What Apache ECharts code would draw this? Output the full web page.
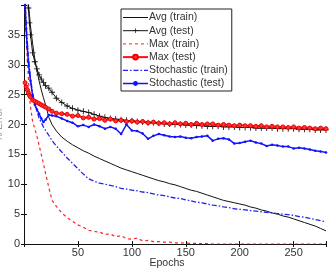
<!DOCTYPE html>
<html>
<head>
<meta charset="utf-8">
<script src="https://cdn.jsdelivr.net/npm/echarts@6/dist/echarts.min.js"></script>
<style>
  html, body { margin: 0; padding: 0; background: #fff; }
  #main { width: 331px; height: 269px; }
</style>
</head>
<body>
<div id="main"></div>
<script>
// epochs (x)
var epochs = [1,2,3,4,5,6,8,10,12,14,16,18,20,23,26,30,35,40,45,50,55,60,65,70,75,80,85,90,95,100,
  105,110,115,120,125,130,135,140,145,150,155,160,165,170,175,180,185,190,195,200,
  205,210,215,220,225,230,235,240,245,250,255,260,265,270,275,280];

// % error per series
var avgTrain = [48,45,42.5,40.5,38.5,36.5,33.5,31,29,27.3,25.8,24.5,23.3,21.2,20,18.9,17.9,17.2,16.6,16.1,
  15.6,15.2,14.7,14.3,13.9,13.5,13.1,12.7,12.4,12.1,11.8,11.5,11.2,10.9,10.6,10.4,10.1,9.9,9.6,9.3,
  9,8.8,8.5,8.2,7.9,7.6,7.3,7.1,6.9,6.7,6.5,6.2,6,5.7,5.5,5.2,5,4.7,4.5,4.2,3.9,3.6,3.3,3,2.6,2.2];
var avgTest = [48,45,42,39.5,37,35,32,30.5,29.3,28.3,27.6,27,26.5,26.1,25.4,24.4,23.7,23.1,22.7,22.4,
  22.2,22,21.7,21.4,21.2,21,20.9,20.8,20.7,20.6,20.5,20.4,20.3,20.3,20.2,20.1,20.1,20,20,19.9,
  19.9,19.8,19.8,19.7,19.7,19.7,19.6,19.6,19.6,19.5,19.5,19.5,19.4,19.4,19.4,19.4,19.3,19.3,19.3,19.3,
  19.2,19.2,19.2,19.1,19.1,19.1];
var maxTrain = [40,35,31,28,25,23,20.5,19.3,18,16.5,15,13.5,11.8,9.5,7.3,6.3,5.2,4.4,3.8,3.2,
  2.8,2.3,2.1,2,1.6,1.7,1.2,1.4,0.9,0.8,1,0.5,0.6,0.4,0.4,0.3,0.3,0.2,0.2,0.15,
  0.1,0.1,0.05,0.05,0,0,0,0,0,0,0,0,0,0,0,0,0,0,0,0,0,0,0,0,0,0];
var maxTest = [27,26.3,25.8,25.3,24.9,24.6,24.1,23.9,23.7,23.5,23.3,23.1,22.9,22.6,22.2,21.9,21.8,21.7,21.4,21.5,
  21.1,21.2,20.9,21,20.7,20.9,20.6,20.7,20.5,20.6,20.4,20.5,20.3,20.4,20.2,20.3,20.1,20.3,20.1,20.2,
  20,20.2,20,20.1,20.1,19.9,20,19.9,19.8,19.9,19.8,19.8,19.7,19.8,19.6,19.7,19.6,19.6,19.5,19.6,
  19.4,19.5,19.4,19.3,19.4,19.3];
var stoTrain = [41,37,34,31.5,29.5,27.8,25.3,23.5,22.2,21.1,20.3,19.6,19,18.2,17.3,16.4,15.4,14.4,13.5,12.6,
  11.7,10.9,10.5,10.2,10,9.8,9.6,9.3,9.2,9,8.9,8.7,8.6,8.4,8.2,8.1,7.9,7.7,7.6,7.4,
  7.2,7,6.9,6.7,6.5,6.4,6.2,6.1,5.9,5.8,5.7,5.6,5.5,5.4,5.3,5.2,5.1,5,4.9,4.8,
  4.6,4.5,4.3,4.1,3.9,3.7];
var stoTest = [40,36,33,30.5,28.8,27.3,24.8,23.3,22.5,21.8,21,20.4,20.8,21.6,21.5,21.4,21,20.6,20.3,19.7,
  19.9,19.6,20,19.7,19.3,19.6,19.3,18.4,20,19,18.9,18.5,17.6,18.1,18.4,18.2,18,17.9,18,17.8,
  17.7,17.9,18,18.1,17.3,17.6,17.7,17.5,16.8,16.9,17.1,17.3,17,16.8,16.4,16.6,16.5,16.3,16.3,16,
  16.1,16,15.8,15.6,15.5,15.3];

var names = ['Avg (train)','Avg (test)','Max (train)','Max (test)','Stochastic (train)','Stochastic (test)'];

function pairs(ys){
    var out = [];
    for(var i=0;i<epochs.length;i++){ out.push([epochs[i], ys[i]]); }
    return out;
}

var plus = 'path://M4.3,0H5.7V4.3H10V5.7H5.7V10H4.3V5.7H0V4.3H4.3Z';
var font = 'Liberation Sans';
var hideMark = { color: 'rgba(0,0,0,0)', borderWidth: 0 };

var chart = echarts.init(document.getElementById('main'), null, {renderer:'canvas'});
var option = {
    animation: false,
    backgroundColor: '#fff',
    textStyle: { fontFamily: font },
    grid: { left: 24, right: 5, top: 5, bottom: 25, outerBoundsMode: 'none', containLabel: false },
    legend: {
        orient: 'vertical',
        left: 121, top: 9,
        padding: [3, 4, 2, 1],
        itemWidth: 25, itemHeight: 6, itemGap: 2.2,
        backgroundColor: '#fff',
        borderColor: '#222', borderWidth: 1,
        textStyle: { fontSize: 10.5, lineHeight: 10, color: '#333', fontFamily: font, padding: [0,0,0,-4] },
        data: [
            { name: names[0], itemStyle: hideMark, lineStyle: { width: 1 } },
            { name: names[1], lineStyle: { width: 1 } },
            { name: names[2], itemStyle: hideMark, lineStyle: { width: 1 } },
            { name: names[3], lineStyle: { width: 2 } },
            { name: names[4], itemStyle: hideMark, lineStyle: { width: 1.2 } },
            { name: names[5], lineStyle: { width: 1.5 } }
        ]
    },
    xAxis: [{
        type: 'value', min: 0, max: 280, interval: 50,
        name: 'Epochs', nameLocation: 'middle', nameGap: 14, nameMoveOverlap: false,
        nameTextStyle: { fontSize: 10.5, color: '#333', verticalAlign: 'top', padding: [0, 16, 0, 0] },
        axisLine: { lineStyle: { color: '#111', width: 1 } },
        axisTick: { inside: true, length: 3, lineStyle: { color: '#111' } },
        axisLabel: { fontSize: 11, color: '#333', margin: 3,
            formatter: function(v){ return (v == 0 || v == 280) ? '' : v; } },
        splitLine: { show: false }
    }, {
        type: 'value', position: 'top', min: 0, max: 280, interval: 50,
        axisLine: { lineStyle: { color: '#111', width: 1 } },
        axisTick: { inside: true, length: 3, lineStyle: { color: '#111' } },
        axisLabel: { show: false }, splitLine: { show: false }
    }],
    yAxis: [{
        type: 'value', min: 0, max: 40, interval: 5,
        name: '% Error', nameLocation: 'middle', nameGap: 20, nameMoveOverlap: false,
        nameTextStyle: { fontSize: 10, color: '#99a' },
        axisLine: { show: true, lineStyle: { color: '#111', width: 1 } },
        axisTick: { show: true, inside: true, length: 3, lineStyle: { color: '#111' } },
        axisLabel: { fontSize: 11, color: '#333', margin: 4,
            formatter: function(v){ return v == 40 ? '' : v; } },
        splitLine: { show: false }
    }, {
        type: 'value', position: 'right', min: 0, max: 40, interval: 5,
        axisLine: { show: true, lineStyle: { color: '#111', width: 1 } },
        axisTick: { show: true, inside: true, length: 3, lineStyle: { color: '#111' } },
        axisLabel: { show: false }, splitLine: { show: false }
    }],
    series: [
        { name: names[0], type: 'line', data: pairs(avgTrain), symbol: 'none',
          color: '#111', lineStyle: { color: '#111', width: 1 } },
        { name: names[1], type: 'line', data: pairs(avgTest), symbol: plus, symbolSize: 6,
          color: '#111', itemStyle: { color: '#111' }, lineStyle: { color: '#111', width: 1 } },
        { name: names[2], type: 'line', data: pairs(maxTrain), symbol: 'none',
          color: '#f22', lineStyle: { color: '#f22', width: 1.2, type: [3, 3] } },
        { name: names[3], type: 'line', data: pairs(maxTest), symbol: 'circle', symbolSize: 4,
          color: '#f11', itemStyle: { color: '#f33', borderColor: '#e00', borderWidth: 1 },
          lineStyle: { color: '#f11', width: 2 } },
        { name: names[4], type: 'line', data: pairs(stoTrain), symbol: 'none',
          color: '#22e', lineStyle: { color: '#22e', width: 1.3, type: [5, 2, 1.5, 2] } },
        { name: names[5], type: 'line', data: pairs(stoTest), symbol: 'circle', symbolSize: 2.5,
          color: '#11f', itemStyle: { color: '#11f' }, lineStyle: { color: '#11f', width: 1.5 } }
    ]
};
chart.setOption(option);
</script>
</body>
</html>
